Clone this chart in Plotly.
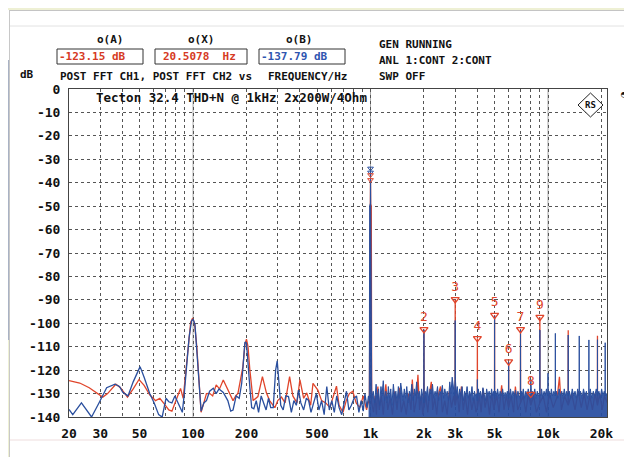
import math
import plotly.graph_objects as go

# ---------------- data ----------------
x_tick_vals = [20, 30, 40, 50, 60, 70, 80, 90, 100, 200, 300, 400, 500, 600, 700, 800, 900,
               1000, 2000, 3000, 4000, 5000, 6000, 7000, 8000, 9000, 10000, 20000]
x_tick_text = ['20', '30', '', '50', '', '', '', '', '100', '200', '', '', '500', '', '', '', '',
               '1k', '2k', '3k', '', '5k', '', '', '', '', '10k', '20k']
y_tick_vals = [0, -10, -20, -30, -40, -50, -60, -70, -80, -90, -100, -110, -120, -130, -140]
y_tick_text = ['0', '-10', '-20', '-30', '-40', '-50', '-60', '-70', '-80', '-90', '-100',
               '-110', '-120', '-130', '-140']
decade_lines_hz = [100, 1000, 10000]

# CH1 (red)
red_freq_hz = [
    20, 23, 26, 29, 31, 33, 36.7, 39, 42.7, 46,
    49.6, 53, 57, 61.5, 65, 69, 73, 76, 80, 85,
    88, 91, 94, 97, 99.5, 102, 105, 108, 111, 115,
    119, 124, 129, 135, 141, 148, 157, 162, 168, 174,
    179, 191, 196, 200, 204, 209, 218, 232, 246, 259,
    270, 289, 300, 315, 330, 350, 365, 385, 400, 420,
    437, 460, 474, 505, 530, 560, 590, 615, 643, 665,
    700, 730, 760, 794, 830, 870, 910, 950, 975,
    985, 990, 998, 1000, 1002, 1010, 1015, 1040, 1060, 1080,
    1100, 1120, 1150, 1180, 1220, 1250, 1290, 1330, 1370, 1410,
    1450, 1490, 1540, 1590, 1640, 1690, 1720, 1760, 1810, 1850,
    1890, 1930, 1970, 1995, 2000, 2005, 2050, 2100, 2160, 2200,
    2240, 2300, 2360, 2420, 2480, 2540, 2620, 2700, 2780, 2860,
    2940, 2995, 3000, 3005, 3080, 3160, 3250, 3330, 3420, 3520,
    3620, 3720, 3830, 3930, 3995, 4000, 4005, 4100, 4200, 4300,
    4420, 4550, 4680, 4820, 4950, 4995, 5000, 5005, 5150, 5300,
    5480, 5650, 5820, 5995, 6000, 6005, 6200, 6400, 6550, 6750,
    6995, 7000, 7005, 7250, 7500, 7750, 7995, 8000, 8005, 8300,
    8600, 8995, 9000, 9005, 9400, 9800, 10200, 10700, 11300, 11600,
    11900, 12400, 12995, 13000, 13005, 13600, 14200, 14800, 15400, 16000,
    16600, 17200, 17800, 18400, 18995, 19000, 19005, 19600, 20200, 20800,
    21600]
red_db = [
    -124.5, -125.5, -127.5, -130, -131.5, -130, -126, -127.5, -131.5, -128,
    -124, -126.5, -130.5, -133, -132, -134.5, -137, -137.5, -133, -127.8,
    -132, -120, -108, -99.5, -97.8, -100, -110, -125, -138, -134,
    -130, -129.9, -131, -126.3, -128, -124.2, -128.5, -131, -133, -131,
    -129.9, -118.5, -109, -106.8, -110, -120, -133, -131.3, -122.8, -129.7,
    -133, -136, -133, -131.5, -134, -122.8, -131, -134, -124, -132,
    -129.7, -135, -125.6, -128.5, -133, -134, -136, -131.5, -126.8, -135,
    -138, -133, -130, -129, -134, -136, -131, -137, -133,
    -134, -50, -49, -38, -49, -50, -134, -138, -131, -139,
    -127, -137, -131, -139, -126, -137, -132, -139, -129, -137,
    -127.5, -138, -133, -139, -130, -137, -124, -138, -133, -122,
    -137, -131, -139, -136, -102.6, -136, -131, -138, -129, -125,
    -137, -132, -139, -130, -127, -138, -133, -139, -129, -136,
    -131, -135, -89.8, -135, -130, -138, -127, -137, -131, -139,
    -130, -137, -132, -138, -136, -106.4, -136, -131, -138, -128,
    -136, -131, -139, -130, -137, -135, -96.5, -135, -131, -138,
    -126.5, -137, -131, -136, -116.4, -136, -131, -138, -127, -137,
    -134, -102.6, -134, -131, -138, -130, -135, -130.2, -135, -131,
    -138, -134, -97.4, -134, -131, -138, -130, -136, -131, -122.8,
    -137, -131, -135, -103, -135, -130, -137, -129, -136, -130,
    -137, -131, -137, -130, -135, -105.3, -135, -130, -137, -131,
    -134]

# CH2 (blue)
blue_freq_hz = [
    20, 21, 23.5, 26.8, 29.5, 32.6, 36.3, 38.5, 40.2, 43,
    46, 50.3, 53, 57, 60.4, 64, 67, 70.4, 73, 76,
    79, 83, 87, 89, 92, 95, 98, 100, 102.5, 105,
    108, 111, 115, 119, 124, 130, 135, 140, 148, 157,
    163, 168, 175, 182, 188, 196, 200, 204, 209, 214,
    220, 227, 234, 242, 250, 258, 266, 274, 283, 292,
    298, 304, 312, 322, 333, 345, 358, 370, 382, 393,
    405, 420, 435, 448, 462, 478, 495, 512, 530, 548,
    567, 586, 605, 625, 645, 665, 688, 710, 732, 755,
    780, 807, 834, 860, 885, 910, 930, 955, 975,
    984, 989, 998, 1000, 1002, 1011, 1016, 1035, 1055, 1075,
    1090, 1110, 1125, 1145, 1160, 1180, 1200, 1220, 1240, 1260,
    1280, 1300, 1320, 1345, 1365, 1390, 1410, 1435, 1455, 1480,
    1500, 1525, 1550, 1575, 1600, 1630, 1655, 1680, 1710, 1740,
    1765, 1790, 1820, 1850, 1880, 1910, 1940, 1975, 1996, 2000,
    2004, 2030, 2060, 2095, 2130, 2165, 2200, 2235, 2270, 2310,
    2345, 2385, 2420, 2460, 2500, 2540, 2580, 2620, 2665, 2705,
    2750, 2795, 2840, 2885, 2930, 2970, 2992, 3000, 3008, 3040,
    3080, 3130, 3180, 3230, 3280, 3335, 3390, 3445, 3500, 3555,
    3610, 3670, 3730, 3790, 3850, 3910, 3970, 3992, 4000, 4008,
    4050, 4100, 4165, 4230, 4300, 4370, 4440, 4510, 4585, 4660,
    4735, 4810, 4880, 4950, 4992, 5000, 5008, 5060, 5120, 5200,
    5290, 5375, 5460, 5550, 5640, 5730, 5820, 5900, 5985, 6000,
    6015, 6080, 6150, 6250, 6350, 6450, 6560, 6660, 6770, 6880,
    6985, 7000, 7015, 7080, 7150, 7260, 7380, 7500, 7620, 7740,
    7870, 7985, 8000, 8015, 8080, 8150, 8280, 8420, 8560, 8700,
    8840, 8985, 9000, 9015, 9100, 9200, 9350, 9500, 9650, 9800,
    9985, 10000, 10015, 10150, 10300, 10450, 10600, 10800, 10985, 11000,
    11015, 11150, 11350, 11550, 11750, 11950, 12150, 12350, 12550, 12750,
    12985, 13000, 13015, 13200, 13450, 13700, 13950, 14200, 14450, 14700,
    14985, 15000, 15015, 15250, 15550, 15850, 16150, 16450, 16750, 16985,
    17000, 17015, 17300, 17650, 18000, 18350, 18700, 18985, 19000, 19015,
    19350, 19700, 20050, 20400, 20750, 20985, 21000, 21015, 21300, 21600]
blue_db = [
    -136.8, -139, -134, -140, -134, -127.5, -126, -127, -129.5, -131,
    -125, -118.5, -123, -130, -134, -139, -140, -132, -133.5, -134,
    -131, -134.5, -138, -131, -118, -106, -99, -98.2, -100.5, -112,
    -129, -137.5, -134, -133, -129, -127.7, -130, -128, -129.5, -133,
    -137.5, -137, -131, -132, -125.6, -108, -108.5, -118, -127.5, -136,
    -136.5, -133, -138, -131, -134, -137, -132, -136, -136, -120,
    -116, -125.8, -135, -137, -131, -131.3, -138, -133, -135, -128.5,
    -134, -137, -132, -133, -138, -134, -130, -137, -133, -139,
    -127, -137, -133, -138, -131, -136, -139, -134, -129, -137,
    -135, -132, -131, -138, -133, -137.5, -130, -136, -131,
    -133, -50, -48.7, -34.5, -48.7, -50, -132, -129, -134, -126,
    -132, -128, -135, -127, -131, -124.5, -133, -129, -134, -127,
    -132, -128, -135, -126, -131, -129, -134, -127, -132, -125.5,
    -130, -133, -128, -132, -127, -134, -129, -131, -126, -133,
    -128, -131, -125, -132, -129, -133, -128, -132, -134, -102.8,
    -134, -129, -131, -127, -133, -128, -130, -126, -132, -129,
    -131, -127, -133, -129, -130, -126.5, -132, -128, -131, -129,
    -133, -125, -130, -123, -128, -131, -124, -98.8, -124, -130,
    -127, -132, -128, -131, -127, -133, -129, -131, -127, -132,
    -129, -131, -127, -133, -129, -131, -130, -133, -124, -133,
    -128, -131, -129, -132, -127.5, -130, -133, -128, -131, -129,
    -132, -128, -131, -129, -132, -96.8, -132, -129, -131, -128,
    -132, -129, -131, -128, -132, -129.5, -131, -129, -132, -116.6,
    -132, -130, -128, -132, -129, -131, -128.5, -132, -129, -131,
    -132, -102.8, -132, -129, -131, -128, -132, -129, -131, -128,
    -131, -130, -124, -130, -132, -129, -131, -128, -132, -129,
    -131, -130, -102.9, -130, -131, -128, -132, -129, -131, -128,
    -131, -121.3, -131, -129, -132, -128, -131, -129, -131, -104.3,
    -131, -129, -132, -128, -131, -129, -132, -128, -131, -129,
    -131, -105, -131, -129, -132, -128, -131, -129, -132, -128,
    -131, -105.4, -131, -129, -132, -128, -131, -129, -132, -131,
    -107.1, -131, -128, -132, -129, -131, -128, -131, -107, -131,
    -129, -132, -128, -131, -129, -131, -108.3, -131, -130, -131]
FILL_FROM_HZ = 975  # blue noise band drawn filled from here upward

# harmonic markers (CH1)
harm_freq_hz = [2000, 3000, 4000, 5000, 6000, 7000, 8000, 9000]
harm_db = [-102.6, -89.8, -106.4, -96.5, -116.4, -102.6, -130.2, -97.4]
harm_label = ['2', '3', '4', '5', '6', '7', '8', '9']
# fundamental markers
fund_freq_hz = [1000, 1000]
fund_blue_db = [-33.9, -35.6]
fund_red_db = [-36.7, -38.8]

assert len(red_freq_hz) == len(red_db), (len(red_freq_hz), len(red_db))
assert len(blue_freq_hz) == len(blue_db), (len(blue_freq_hz), len(blue_db))

# ---------------- geometry (page pixels; page body has an 8px margin) ----------------
PAGE_W, PAGE_H = 632, 457
OFF = 8
W, H = PAGE_W - OFF, PAGE_H - OFF
L, R, T, B = 69, 607, 89, 417          # plot frame in page pixels
X_MIN, X_MAX = 20, 21500
Y_MIN, Y_MAX = -140, 0


def px(x):
    return (x - L) / (R - L)


def py(y):
    return (B - y) / (B - T)


RED = '#e0452b'
BLUE = '#2a4f9e'
MONO = 'DejaVu Sans Mono'

fig = go.Figure()

fig.add_trace(go.Scatter(x=red_freq_hz, y=red_db, mode='lines',
                         line=dict(color=RED, width=1.3), hoverinfo='skip'))

split = next(i for i, f in enumerate(blue_freq_hz) if f >= FILL_FROM_HZ)
fig.add_trace(go.Scatter(x=[blue_freq_hz[split], blue_freq_hz[-1]], y=[Y_MIN, Y_MIN],
                         mode='lines', line=dict(width=0, color='rgba(0,0,0,0)'),
                         hoverinfo='skip'))
fig.add_trace(go.Scatter(x=blue_freq_hz[split:], y=blue_db[split:], mode='lines',
                         fill='tonexty', fillcolor='rgba(40,78,160,0.93)',
                         line=dict(color=BLUE, width=1), hoverinfo='skip'))
fig.add_trace(go.Scatter(x=blue_freq_hz[:split + 1], y=blue_db[:split + 1], mode='lines',
                         line=dict(color=BLUE, width=1.3), hoverinfo='skip'))

fig.add_trace(go.Scatter(x=harm_freq_hz, y=harm_db, mode='markers+text', text=harm_label,
                         textposition='top center',
                         textfont=dict(family=MONO, size=13, color=RED),
                         marker=dict(symbol='triangle-down-open', size=7, color=RED,
                                     line=dict(width=1.3, color=RED)),
                         hoverinfo='skip'))
fig.add_trace(go.Scatter(x=fund_freq_hz, y=fund_blue_db, mode='markers',
                         marker=dict(symbol='triangle-down-open', size=5, color=BLUE,
                                     line=dict(width=1, color=BLUE)), hoverinfo='skip'))
fig.add_trace(go.Scatter(x=fund_freq_hz, y=fund_red_db, mode='markers',
                         marker=dict(symbol='triangle-down-open', size=5, color=RED,
                                     line=dict(width=1, color=RED)), hoverinfo='skip'))

shapes = []
# page background pieces (only the parts inside the figure are visible)
shapes.append(dict(type='rect', xref='paper', yref='paper', x0=px(0), x1=px(9), y0=py(60), y1=py(340),
                   fillcolor='#a9b2c4', line=dict(width=0), layer='below'))
shapes.append(dict(type='rect', xref='paper', yref='paper', x0=px(0), x1=px(9), y0=py(340), y1=py(PAGE_H),
                   fillcolor='#eef0d4', line=dict(width=0), layer='below'))
shapes.append(dict(type='rect', xref='paper', yref='paper', x0=px(0), x1=px(PAGE_W), y0=py(0), y1=py(10),
                   fillcolor='#eef0d4', line=dict(width=0), layer='below'))
shapes.append(dict(type='line', xref='paper', yref='paper', x0=px(9), x1=px(PAGE_W), y0=py(10.5), y1=py(10.5),
                   line=dict(color='#c4c4c4', width=1)))
shapes.append(dict(type='line', xref='paper', yref='paper', x0=px(9.5), x1=px(9.5), y0=py(10.5), y1=py(PAGE_H),
                   line=dict(color='#c8c8c8', width=1)))
shapes.append(dict(type='line', xref='paper', yref='paper', x0=px(10), x1=px(PAGE_W), y0=py(26), y1=py(26),
                   line=dict(color='#e2e2e2', width=1)))
shapes.append(dict(type='line', xref='paper', yref='paper', x0=px(10), x1=px(PAGE_W), y0=py(440), y1=py(440),
                   line=dict(color='#eedddd', width=1)))
# cursor value boxes
for x0, x1 in [(57, 143), (155, 247), (259, 345)]:
    shapes.append(dict(type='rect', xref='paper', yref='paper', x0=px(x0), x1=px(x1),
                       y0=py(64), y1=py(49), line=dict(color='#333333', width=1)))
# decade grid lines (solid)
for f in decade_lines_hz:
    shapes.append(dict(type='line', xref='x', yref='paper', x0=f, x1=f, y0=0, y1=1,
                       line=dict(color='#a8a8a8', width=1), layer='below'))
# R&S logo diamond
cx, cy, hw, hh = 590.5, 105, 12.5, 12
shapes.append(dict(type='path', xref='paper', yref='paper',
                   path=f'M {px(cx)},{py(cy - hh)} L {px(cx + hw)},{py(cy)} L {px(cx)},{py(cy + hh)} L {px(cx - hw)},{py(cy)} Z',
                   line=dict(color='#222222', width=1), fillcolor='white'))

annotations = []


def txt(s, x, y, color='#111111', size=11, anchor='left', weight='bold'):
    annotations.append(dict(text=s, x=px(x), y=py(y), xref='paper', yref='paper',
                            xanchor=anchor, yanchor='middle', showarrow=False,
                            font=dict(family=MONO, size=size, color=color, weight=weight)))


txt('o(A)', 110, 39, anchor='center')
txt('o(X)', 201, 39, anchor='center')
txt('o(B)', 299, 39, anchor='center')
txt('-123.15 dB', 57, 57, color='#d63a24')
txt('20.5078  Hz', 161, 57, color='#d63a24')
txt('-137.79 dB', 259, 57, color='#2f55b0')
txt('GEN RUNNING', 377, 44)
txt('ANL 1:CONT 2:CONT', 377, 60)
txt('SWP OFF', 377, 76)
txt('dB', 18, 75)
txt('POST FFT CH1, POST FFT CH2 vs', 58, 76)
txt('FREQUENCY/Hz', 266, 76)
txt('Tecton 32.4 THD+N @ 1kHz 2x200W/4Ohm', 94, 97, size=12.5)
txt('RS', cx, cy, size=9, anchor='center')
txt('◓', 624, 94, size=9, anchor='center')

fig.update_layout(
    width=W, height=H,
    margin=dict(l=L - OFF, r=PAGE_W - R, t=T - OFF, b=PAGE_H - B, pad=0),
    paper_bgcolor='white', plot_bgcolor='white',
    showlegend=False,
    shapes=shapes, annotations=annotations,
    xaxis=dict(type='log', range=[math.log10(X_MIN), math.log10(X_MAX)],
               tickmode='array', tickvals=x_tick_vals, ticktext=x_tick_text,
               ticks='', showgrid=True, gridcolor='#555555', griddash='dot', gridwidth=1,
               showline=True, mirror=True, linecolor='#444444', linewidth=1,
               zeroline=False, ticklabelstandoff=4,
               tickfont=dict(family=MONO, size=13, color='#111111', weight='bold')),
    yaxis=dict(range=[Y_MIN, Y_MAX], tickmode='array', tickvals=y_tick_vals,
               ticktext=y_tick_text, ticks='', showgrid=True, gridcolor='#555555',
               griddash='dot', gridwidth=1, showline=True, mirror=True,
               linecolor='#444444', linewidth=1, zeroline=False, ticklabelstandoff=5,
               tickfont=dict(family=MONO, size=13, color='#111111', weight='bold')),
)

fig.write_html('out.html')
